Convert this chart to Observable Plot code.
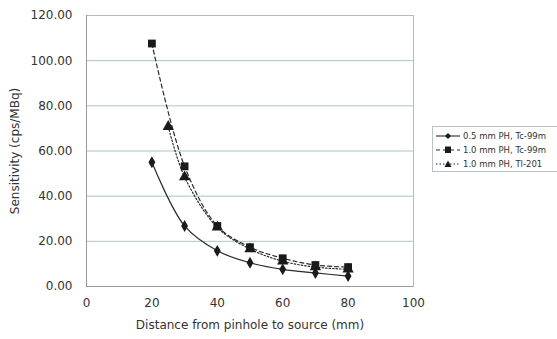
<!DOCTYPE html>
<html><head><meta charset="utf-8">
<script src="https://cdn.jsdelivr.net/npm/d3@7"></script>
<script src="https://cdn.jsdelivr.net/npm/@observablehq/plot@0.6"></script>
<style>
body{margin:0;background:#fff;overflow:hidden;}
#wrap{position:relative;width:557px;height:339px;overflow:hidden;font-family:"DejaVu Sans",sans-serif;}
#legend{position:absolute;left:432px;top:126px;width:140px;height:46px;border:1px solid #b8c4c8;box-sizing:border-box;font-size:8.5px;color:#333;padding-top:2px;white-space:nowrap;}
#legend div{display:flex;align-items:center;height:14px;}
#legend svg{margin-left:3px;margin-right:3px;flex:none;}
</style></head>
<body><div id="wrap"><div id="chart"></div><div id="legend"></div></div>
<script>
const seriesNames = ["0.5 mm PH, Tc-99m", "1.0 mm PH, Tc-99m", "1.0 mm PH, Tl-201"];
const distA = [20, 30, 40, 50, 60, 70, 80];
const sensA = [55.0, 26.8, 15.8, 10.5, 7.6, 6.0, 4.6];
const distB = [20, 30, 40, 50, 60, 70, 80];
const sensB = [107.6, 53.2, 26.8, 17.4, 12.5, 9.5, 8.6];
const distC = [25, 30, 40, 50, 60, 70, 80];
const sensC = [70.8, 48.5, 26.2, 16.6, 11.2, 8.6, 7.6];
const yTicks = [0, 20, 40, 60, 80, 100, 120];
const xTicks = [0, 20, 40, 60, 80, 100];

const rows = [];
distA.forEach((d,i)=>rows.push({s:seriesNames[0],x:d,y:sensA[i]}));
distB.forEach((d,i)=>rows.push({s:seriesNames[1],x:d,y:sensB[i]}));
distC.forEach((d,i)=>rows.push({s:seriesNames[2],x:d,y:sensC[i]}));
const styles = {
  [seriesNames[0]]:{dash:null, sym:"diamond", r:3.6},
  [seriesNames[1]]:{dash:"4,3", sym:"square", r:4.4},
  [seriesNames[2]]:{dash:"1.5,2", sym:"triangle", r:4.2}
};
const lineMarks = seriesNames.map(n=>Plot.line(rows.filter(d=>d.s===n),{x:"x",y:"y",curve:"catmull-rom",stroke:"#2a2a2a",strokeWidth:1.2,strokeDasharray:styles[n].dash}));
const dotMarks = seriesNames.map(n=>Plot.dot(rows.filter(d=>d.s===n),{x:"x",y:"y",symbol:()=>styles[n].sym,r:styles[n].r,fill:"#1a1a1a",stroke:"none"}));

const chart = Plot.plot({
  width:557, height:339,
  marginLeft:86, marginRight:144, marginTop:15, marginBottom:53,
  style:{fontFamily:'"DejaVu Sans",sans-serif',fontSize:"12px",color:"#333",background:"#fff"},
  symbol:{type:"identity"},
  x:{domain:[0,100],ticks:xTicks,tickSize:0,tickPadding:12,label:"Distance from pinhole to source (mm)",labelAnchor:"center",labelOffset:42,labelArrow:"none"},
  y:{domain:[0,120],ticks:yTicks,tickSize:0,tickPadding:14,tickFormat:d=>d.toFixed(2),label:"Sensitivity (cps/MBq)",labelAnchor:"center",labelOffset:76,labelArrow:"none"},
  marks:[
    Plot.gridY(yTicks,{stroke:"#a9c3c8",strokeOpacity:1,strokeWidth:1}),
    Plot.frame({stroke:"#b0bcc0"}),
    Plot.ruleX([0],{stroke:"#999"}),
    Plot.ruleY([0],{stroke:"#999"}),
    ...lineMarks,
    ...dotMarks
  ]
});
document.getElementById("chart").appendChild(chart);

const leg = document.getElementById("legend");
const symPath = {
  diamond:"M12,1 L15,4 L12,7 L9,4 Z",
  square:"M9,0.5 H15 V7 H9 Z",
  triangle:"M12,0.5 L15.5,7 L8.5,7 Z"
};
seriesNames.forEach(n=>{
  const st = styles[n];
  const row = document.createElement("div");
  row.innerHTML = `<svg width="24" height="8"><line x1="0" y1="4" x2="24" y2="4" stroke="#2a2a2a" stroke-width="1.1" ${st.dash?`stroke-dasharray="${st.dash}"`:""}/><path d="${symPath[st.sym]}" fill="#1a1a1a"/></svg><span>${n}</span>`;
  leg.appendChild(row);
});
</script></body></html>
